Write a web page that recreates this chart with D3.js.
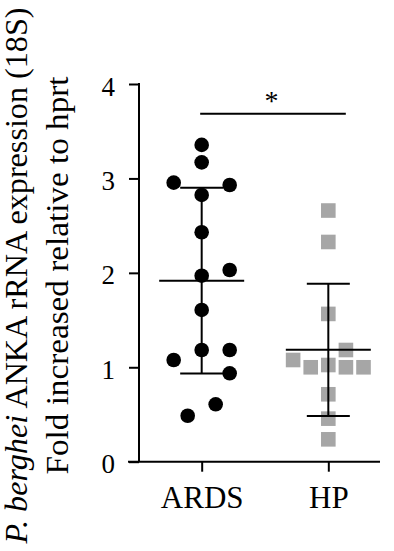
<!DOCTYPE html>
<html>
<head>
<meta charset="utf-8">
<script src="https://cdn.jsdelivr.net/npm/d3@7"></script>
<style>
  html, body { margin: 0; padding: 0; background: #fff; }
  svg { display: block; }
  text { font-family: "Liberation Serif", "DejaVu Serif", serif; fill: #000; }
</style>
</head>
<body>
<svg id="chart" width="394" height="551"></svg>
<script>
// ---- data ----
const categories = ["ARDS", "HP"];
const ardsValues = [3.355, 3.17, 2.955, 2.93, 2.825, 2.43, 1.97, 2.03, 1.607, 1.183, 1.183, 1.077, 0.936, 0.608, 0.487];
const ardsColumns = [0, 0, -1, 1, 0, 0, 0, 1, 0, 0, 1, -1, 1, 0.5, -0.5];
const hpValues = [2.66, 2.327, 1.565, 1.183, 1.077, 1.0, 1.024, 1.0, 1.0, 0.714, 0.456, 0.237];
const hpColumns = [0, 0, 0, 1, -2, -1, 0, 1, 2, 0, 0, 0];
const groupMeans = [1.917, 1.185];
const groupSD = [0.983, 0.70];
const yTicks = [0, 1, 2, 3, 4];
const sigLabel = "*";
const sigLevel = 3.686;

// ---- layout ----
const svg = d3.select("#chart");
const x0 = 139, yBottom = 461.7, yTop = 84;
const y = d3.scaleLinear().domain([0, 4]).range([yBottom, yTop]);
const x = d3.scalePoint().domain(categories).range([x0, 391]).padding(0.495);
const colStep = { ARDS: 28, HP: 17.6 };

// y axis
const yAxis = d3.axisLeft(y).tickValues(yTicks).tickFormat(d3.format("d")).tickSize(10).tickPadding(14);
const gy = svg.append("g").attr("transform", `translate(${x0},0)`).call(yAxis);
gy.select(".domain").attr("stroke-width", 2).attr("d", `M0,${yTop - 1}V${yBottom}`);
gy.selectAll(".tick line").attr("stroke-width", 2);
gy.selectAll(".tick text").attr("dy", 11).style("font-size", "27px")
  .style("font-family", '"Liberation Serif", serif');

// x axis
const xAxis = d3.axisBottom(x).tickSize(10).tickPadding(0);
const gx = svg.append("g").attr("transform", `translate(0,${yBottom})`).call(xAxis);
gx.select(".domain").attr("stroke-width", 2).attr("d", `M${x0 - 11},0H380`);
gx.selectAll(".tick line").attr("stroke-width", 2);
gx.selectAll(".tick text").attr("y", 46).attr("dy", 0).style("font-size", "31px")
  .style("font-family", '"Liberation Serif", serif');

// y axis title
const title = svg.append("g").attr("transform", "translate(0,275.5) rotate(-90)");
const t1 = title.append("text").attr("x", 0).attr("y", 26.5).attr("text-anchor", "middle")
  .attr("textLength", 536).attr("lengthAdjust", "spacingAndGlyphs")
  .style("font-size", "31.5px");
t1.append("tspan").style("font-style", "italic").text("P. berghei");
t1.append("tspan").text(" ANKA rRNA expression (18S)");
title.append("text").attr("x", 0).attr("y", 68.3).attr("text-anchor", "middle")
  .attr("textLength", 398).attr("lengthAdjust", "spacingAndGlyphs")
  .style("font-size", "32px").text("Fold increased relative to hprt");

// points
const ards = ardsValues.map((v, i) => ({ v, c: ardsColumns[i] }));
const hp = hpValues.map((v, i) => ({ v, c: hpColumns[i] }));

svg.append("g").selectAll("circle").data(ards).join("circle")
  .attr("cx", d => x("ARDS") + d.c * colStep.ARDS)
  .attr("cy", d => y(d.v))
  .attr("r", 7.3)
  .attr("fill", "#000");

const sq = 14.6;
svg.append("g").selectAll("rect").data(hp).join("rect")
  .attr("x", d => x("HP") + d.c * colStep.HP - sq / 2)
  .attr("y", d => y(d.v) - sq / 2)
  .attr("width", sq).attr("height", sq)
  .attr("fill", "#a6a6a6");

// mean & SD
const stats = categories.map((c, i) => ({ c, m: groupMeans[i], sd: groupSD[i] }));
const eg = svg.append("g").attr("stroke", "#000").attr("stroke-width", 2).attr("fill", "none");
stats.forEach(s => {
  const cx = x(s.c);
  eg.append("line").attr("x1", cx - 42.5).attr("x2", cx + 42.5).attr("y1", y(s.m)).attr("y2", y(s.m));
  eg.append("line").attr("x1", cx).attr("x2", cx).attr("y1", y(s.m + s.sd)).attr("y2", y(s.m - s.sd));
  eg.append("line").attr("x1", cx - 21.5).attr("x2", cx + 21.5).attr("y1", y(s.m + s.sd)).attr("y2", y(s.m + s.sd));
  eg.append("line").attr("x1", cx - 21.5).attr("x2", cx + 21.5).attr("y1", y(s.m - s.sd)).attr("y2", y(s.m - s.sd));
});

// significance
svg.append("line").attr("x1", x("ARDS") - 1.5).attr("x2", x("HP") + 17.5)
  .attr("y1", y(sigLevel)).attr("y2", y(sigLevel)).attr("stroke", "#000").attr("stroke-width", 2);
svg.append("text").attr("x", (x("ARDS") + x("HP")) / 2 + 6.5).attr("y", y(sigLevel) - 4)
  .attr("text-anchor", "middle").style("font-size", "28px").text(sigLabel);
</script>
</body>
</html>
